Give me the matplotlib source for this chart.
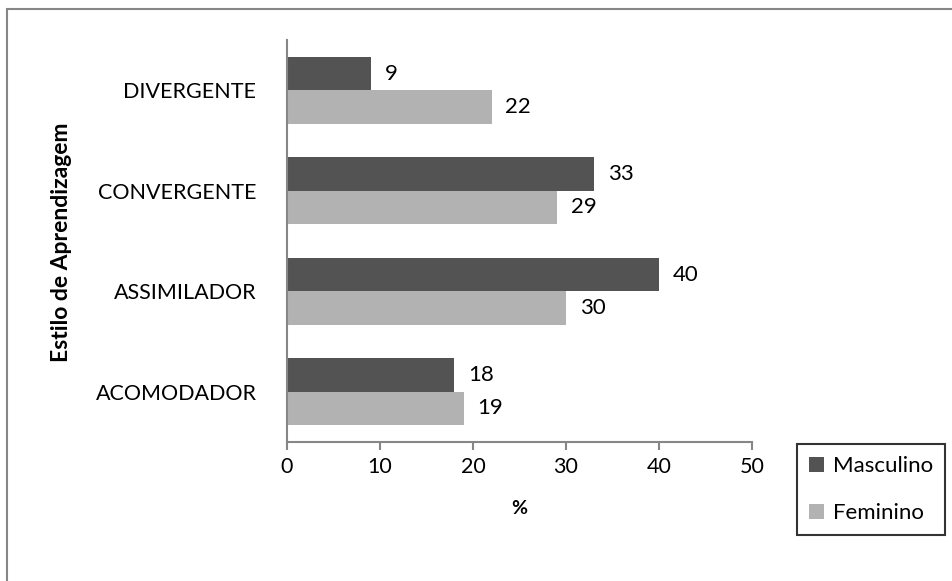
"""
Estilo de aprendizagem por sexo: barras horizontais agrupadas.
"""

import matplotlib.pyplot as plt
import numpy as np
from matplotlib.patches import Rectangle

# Dados (%)
estilos = ["DIVERGENTE", "CONVERGENTE", "ASSIMILADOR", "ACOMODADOR"]
masculino = [9, 33, 40, 18]
feminino = [22, 29, 30, 19]
ticks_x = [0, 10, 20, 30, 40, 50]

COR_MASC = "#525352"
COR_FEM = "#b2b2b2"
COR_EIXO = "#868686"

plt.rcParams["font.family"] = ["Lato", "DejaVu Sans"]


def main():
    fig = plt.figure(figsize=(9.52, 5.81), dpi=100)
    ax = fig.add_axes([287 / 952, 1 - 442 / 581, 465 / 952, 402 / 581])

    # categorias de cima para baixo
    y = np.arange(len(estilos))[::-1].astype(float)
    h = 0.333

    barras_m = ax.barh(y + h / 2, masculino, height=h, color=COR_MASC, label="Masculino")
    barras_f = ax.barh(y - h / 2, feminino, height=h, color=COR_FEM, label="Feminino")

    for barras, vals in ((barras_m, masculino), (barras_f, feminino)):
        for b, v in zip(barras, vals):
            ax.annotate(str(v), (v, b.get_y() + b.get_height() / 2),
                        xytext=(10, 0), textcoords="offset points",
                        ha="left", va="center", fontsize=16)

    ax.set_xlim(0, 50)
    ax.set_ylim(-0.5, len(estilos) - 0.5)
    ax.set_xticks(ticks_x)
    ax.set_yticks(y)
    ax.set_yticklabels(estilos)
    ax.tick_params(axis="x", length=6, width=1.5, color=COR_EIXO, labelsize=15.5, pad=5,
                   direction="out")
    ax.tick_params(axis="y", length=0, labelsize=15.5, pad=22)

    for lado in ("top", "right"):
        ax.spines[lado].set_visible(False)
    for lado in ("left", "bottom"):
        ax.spines[lado].set_color(COR_EIXO)
        ax.spines[lado].set_linewidth(1.5)

    ax.set_xlabel("%", fontsize=14, fontweight="bold", labelpad=16)
    fig.text(62 / 952, 1 - 242 / 581, "Estilo de Aprendizagem", rotation=90,
             ha="center", va="center", fontsize=16.5, fontweight="bold")

    leg = fig.legend(loc="upper left", bbox_to_anchor=(797 / 952, 1 - 444 / 581),
                     frameon=True, fancybox=False, fontsize=16, handlelength=0.65,
                     handleheight=0.65, handletextpad=0.4, labelspacing=1.2,
                     borderpad=0.55, borderaxespad=0)
    leg.get_frame().set_edgecolor("black")
    leg.get_frame().set_linewidth(1.5)

    # moldura da área do gráfico
    fig.patches.append(Rectangle((7 / 952, -0.05), 1.0, 1 - 9 / 581 + 0.05,
                                 transform=fig.transFigure, fill=False,
                                 edgecolor=COR_EIXO, linewidth=1.5, zorder=-1))

    fig.savefig("out.png", dpi=100)
    plt.close(fig)


if __name__ == "__main__":
    main()
